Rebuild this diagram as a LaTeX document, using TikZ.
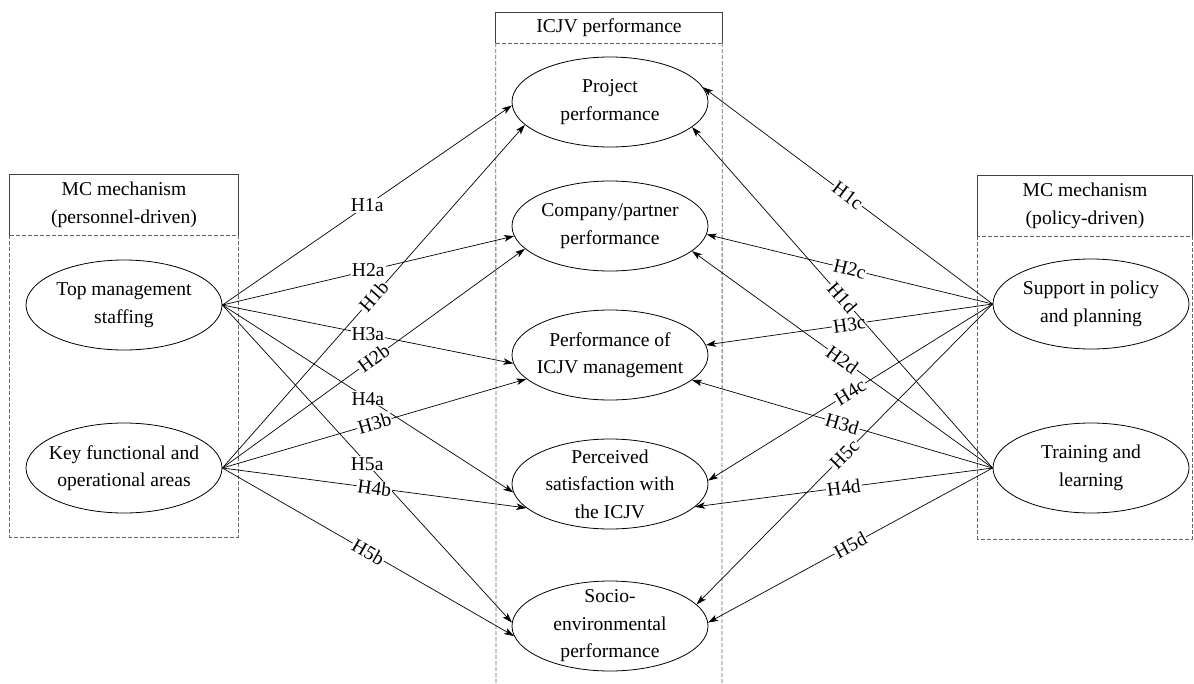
\documentclass[tikz,border=0pt]{standalone}
\usepackage{fontspec}
\setmainfont{Liberation Serif}
\usetikzlibrary{arrows.meta,shapes.geometric}
\begin{document}
\begin{tikzpicture}[x=1pt,y=-1pt,
  font=\fontsize{19.6}{27.5}\selectfont,
  factor/.style={ellipse,draw,line width=0.8pt,minimum width=196pt,minimum height=90pt,inner sep=0pt,
    label={[align=center]center:#1}},
  header/.style={rectangle,align=center,inner sep=0pt},
  hline/.style={draw=black!75,line width=0.8pt},
  frame/.style={draw=black!60,line width=0.8pt,dash pattern=on 4pt off 2pt},
  link/.style={line width=0.7pt,-{Stealth[length=10pt,width=6.5pt,inset=2.5pt]}},
  hyp/.style={midway,fill=white,inner sep=1pt},
]
\useasboundingbox (0,0) rectangle (1194,683);

% group headers and frames
\node[header,minimum width=228pt,minimum height=60pt] (lh) at (124,205) {MC mechanism\\(personnel-driven)};
\node[header,minimum width=226pt,minimum height=30pt] (ch) at (609,28) {ICJV performance};
\node[header,minimum width=214pt,minimum height=60pt] (rh) at (1085,206) {MC mechanism\\(policy-driven)};

\draw[hline] (lh.south west) -- (lh.north west) -- (lh.north east) -- (lh.south east);
\draw[hline] (ch.south west) -- (ch.north west) -- (ch.north east) -- (ch.south east);
\draw[hline] (rh.south west) -- (rh.north west) -- (rh.north east) -- (rh.south east);

\coordinate (lb) at (238,537);
\coordinate (rb) at (1192,539);
\coordinate (cbl) at (496,684);
\coordinate (cbr) at (722,684);
\draw[frame] (lh.south west) rectangle (lb);
\draw[frame] (rh.south west) rectangle (rb);
\draw[frame] (ch.south west) -- (ch.south east);
\draw[frame] (ch.south west) -- (cbl);
\draw[frame] (ch.south east) -- (cbr);

% constructs
\node[factor={Top management\\staffing}] (tm) at (124,305) {};
\node[factor={Key functional and\\operational areas}] (kf) at (124,468) {};

\node[factor={Project\\performance}] (pp) at (610,102) {};
\node[factor={Company/partner\\performance}] (cp) at (610,226) {};
\node[factor={Performance of\\ICJV management}] (pm) at (610,355) {};
\node[factor={Perceived\\satisfaction with\\the ICJV}] (ps) at (610,484) {};
\node[factor={Socio-\\environmental\\performance}] (se) at (610,626) {};

\node[factor={Support in policy\\and planning}] (sp) at (1091,304) {};
\node[factor={Training and\\learning}] (tl) at (1091,468) {};

% hypotheses, personnel-driven side
\draw[link] (tm.east) -- node[hyp]{H1a} (pp.182);
\draw[link] (tm.east) -- node[hyp]{H2a} (cp.186);
\draw[link] (tm.east) -- node[hyp]{H3a} (pm.185);
\draw[link] (tm.east) -- node[hyp]{H4a} (ps.185);
\draw[link] (tm.east) -- node[hyp]{H5a} (se.178);

\draw[link] (kf.east) -- node[hyp,sloped]{H1b} (pp.195);
\draw[link] (kf.east) -- node[hyp,sloped]{H2b} (cp.195);
\draw[link] (kf.east) -- node[hyp,sloped]{H3b} (pm.196);
\draw[link] (kf.east) -- node[hyp,sloped]{H4b} (ps.196);
\draw[link] (kf.east) -- node[hyp,sloped]{H5b} (se.186);

% hypotheses, policy-driven side
\draw[link] (sp.west) -- node[hyp,sloped]{H1c} (pp.9);
\draw[link] (sp.west) -- node[hyp,sloped]{H2c} (cp.355);
\draw[link] (sp.west) -- node[hyp,sloped]{H3c} (pm.6);
\draw[link] (sp.west) -- node[hyp,sloped]{H4c} (ps.2);
\draw[link] (sp.west) -- node[hyp,sloped]{H5c} (se.14);

\draw[link] (tl.west) -- node[hyp,sloped]{H1d} (pp.343);
\draw[link] (tl.west) -- node[hyp,sloped]{H2d} (cp.343);
\draw[link] (tl.west) -- node[hyp,sloped]{H3d} (pm.343);
\draw[link] (tl.west) -- node[hyp,sloped]{H4d} (ps.345);
\draw[link] (tl.west) -- node[hyp,sloped]{H5d} (se.2);
\end{tikzpicture}
\end{document}
